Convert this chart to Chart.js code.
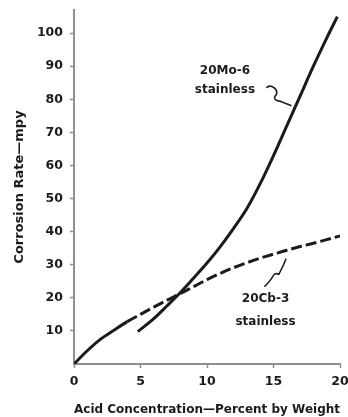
<!DOCTYPE html>
<html>
<head>
<meta charset="utf-8">
<script src="https://cdn.jsdelivr.net/npm/chart.js@4/dist/chart.umd.min.js"></script>
<style>
  html, body { margin: 0; padding: 0; background: #fff; }
  #wrap { width: 348px; height: 417px; }
</style>
</head>
<body>
<div id="wrap"><canvas id="myChart" width="348" height="417"></canvas></div>
<script>
// acid concentration (% by weight) and corrosion rate (mpy)
var moX = [4.8, 6, 7, 8, 9, 10, 11, 12, 13, 14, 15, 16, 17, 18, 19, 19.8];
var moY = [9.8, 13.7, 17.6, 21.6, 26, 30.5, 35.5, 41, 47, 54.5, 63, 72, 81, 90, 98.5, 105];
var cbX = [0, 1, 2, 3, 4, 5, 6, 7, 8, 9, 10, 11, 12, 13, 14, 15, 16, 17, 18, 19, 20];
var cbY = [0, 4, 7.5, 10.2, 12.8, 15, 17.2, 19.3, 21.3, 23.4, 25.5, 27.4, 29.1, 30.6, 32, 33.2, 34.4, 35.5, 36.5, 37.6, 38.7];
var xTicks = [0, 5, 10, 15, 20];
var yTicks = [10, 20, 30, 40, 50, 60, 70, 80, 90, 100];

var ink = "#1b1b1b";
var axisGray = "#8f8f8f";
var fontFam = "'DejaVu Sans', sans-serif";

function pts(xs, ys) {
    return xs.map(function (x, i) { return { x: x, y: ys[i] }; });
}

// curve labels with little squiggly leaders
var labelsPlugin = {
    id: "curveLabels",
    afterDatasetsDraw: function (chart) {
        var c = chart.ctx, xs = chart.scales.x, ys = chart.scales.y;
        function px(x) { return xs.getPixelForValue(x); }
        function py(y) { return ys.getPixelForValue(y); }
        c.save();
        c.fillStyle = ink;
        c.font = "bold 12px " + fontFam;
        c.textAlign = "center";
        c.textBaseline = "middle";
        c.fillText("20Mo-6", px(11.35), py(88.6));
        c.fillText("stainless", px(11.35), py(82.8));
        c.fillText("20Cb-3", px(14.4), py(19.6));
        c.fillText("stainless", px(14.4), py(12.7));

        c.strokeStyle = ink;
        c.lineWidth = 1.6;
        c.lineCap = "round";
        // leader for 20Mo-6
        var ax = px(14.5), ay = py(83.6);
        c.beginPath();
        c.moveTo(ax, ay);
        c.quadraticCurveTo(ax + 4, ay - 3, ax + 8, ay + 1);
        c.quadraticCurveTo(ax + 12, ay + 5, ax + 8, ay + 9);
        c.quadraticCurveTo(ax + 6, ay + 13, ax + 14, ay + 14);
        c.lineTo(ax + 24, ay + 18);
        c.stroke();
        // leader for 20Cb-3
        var bx = px(14.35), by = py(23.5);
        c.beginPath();
        c.moveTo(bx, by);
        c.quadraticCurveTo(bx + 6, by - 6, bx + 8, by - 10);
        c.quadraticCurveTo(bx + 10, by - 14, bx + 14, by - 12);
        c.quadraticCurveTo(bx + 16, by - 16, bx + 18, by - 20);
        c.lineTo(bx + 21, by - 27);
        c.stroke();
        c.restore();
    }
};

document.addEventListener("DOMContentLoaded", function () {
    var ctx = document.getElementById("myChart").getContext("2d");
    var myChart = new Chart(ctx, {
        type: "line",
        data: {
            datasets: [{
                label: "20Mo-6 stainless",
                data: pts(moX, moY),
                borderColor: ink,
                borderWidth: 3,
                pointRadius: 0,
                cubicInterpolationMode: "monotone",
                fill: false,
            }, {
                label: "20Cb-3 stainless",
                data: pts(cbX, cbY),
                borderColor: ink,
                borderWidth: 3,
                pointRadius: 0,
                cubicInterpolationMode: "monotone",
                fill: false,
                segment: {
                    borderDash: function (s) { return s.p0.parsed.x >= 4 ? [11, 4] : undefined; }
                }
            }],
        },
        options: {
            responsive: false,
            animation: false,
            layout: { padding: { top: 10, right: 8, left: 0, bottom: 0 } },
            plugins: { legend: { display: false }, tooltip: { enabled: false } },
            scales: {
                x: {
                    type: "linear",
                    min: 0,
                    max: 20,
                    afterBuildTicks: function (axis) {
                        axis.ticks = xTicks.map(function (v) { return { value: v }; });
                    },
                    afterFit: function (axis) {
                        axis.height = 53;
                        axis.paddingLeft = 0;
                        axis.paddingRight = 0;
                    },
                    grid: { drawOnChartArea: false, tickLength: 4, tickColor: axisGray, tickWidth: 1.5 },
                    border: { color: axisGray, width: 2 },
                    ticks: { color: ink, padding: 6, maxRotation: 0, font: { family: fontFam, size: 12.5, weight: "bold" } },
                    title: {
                        display: true,
                        text: "Acid Concentration\u2014Percent by Weight",
                        color: ink,
                        padding: { top: 3, bottom: 0 },
                        font: { family: fontFam, size: 13, weight: "bold" }
                    }
                },
                y: {
                    min: 0,
                    max: 107,
                    afterBuildTicks: function (axis) {
                        axis.ticks = yTicks.map(function (v) { return { value: v }; });
                    },
                    afterFit: function (axis) {
                        axis.width = 74;
                        axis.paddingTop = 0;
                        axis.paddingBottom = 0;
                    },
                    grid: { drawOnChartArea: false, tickLength: 4, tickColor: axisGray, tickWidth: 1.5 },
                    border: { color: axisGray, width: 2 },
                    ticks: { color: ink, padding: 7, font: { family: fontFam, size: 12.5, weight: "bold" } },
                    title: {
                        display: true,
                        text: "Corrosion Rate\u2014mpy",
                        color: ink,
                        padding: { top: 12, bottom: 0 },
                        font: { family: fontFam, size: 13, weight: "bold" }
                    }
                },
            },
        },
        plugins: [labelsPlugin]
    });
});
</script>
</body>
</html>
